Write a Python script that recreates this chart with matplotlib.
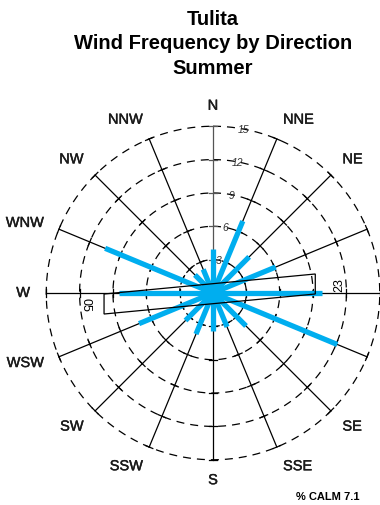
import numpy as np
import matplotlib
matplotlib.use('Agg')
import matplotlib.pyplot as plt
import matplotlib.patheffects as pe
from matplotlib.patches import Polygon

plt.rcParams['font.family'] = ['Liberation Sans', 'DejaVu Sans']

# wind frequency (%) by direction, clockwise from north
directions = ['N', 'NNE', 'NE', 'ENE', 'E', 'ESE', 'SE', 'SSE',
              'S', 'SSW', 'SW', 'WSW', 'W', 'WNW', 'NW', 'NNW']
frequency = [4.0, 7.0, 4.6, 6.1, 9.8, 12.1, 4.2, 3.3,
             3.4, 4.0, 3.5, 7.2, 8.5, 10.5, 2.3, 2.3]
ring_values = [3, 6, 9, 12, 15]
calm_pct = 7.1
station = 'Tulita'
season = 'Summer'

# runway 05/23 (chart units, x east / y north)
runway_labels = ['05', '23']
runway_x = [-9.8, 9.2]
runway_y = [-0.99, 0.81]
runway_half_width = 0.9

bar_color = '#00AEEF'
rmax = 17

fig = plt.figure(figsize=(3.8, 5.06), dpi=100)
rect = [24 / 380, 23 / 506, 378 / 380, 378 / 506]
ax = fig.add_axes(rect, projection='polar')
ax.set_theta_zero_location('N')
ax.set_theta_direction(-1)
ax.set_ylim(0, rmax)
ax.set_axis_off()
px_per_unit = 189 / rmax

theta = np.deg2rad(np.arange(len(directions)) * 22.5)

# dashed rings
th = np.linspace(0, 2 * np.pi, 500)
for r in ring_values:
    ax.plot(th, np.full_like(th, r), color='k', lw=0.9, ls=(0, (6.4, 4.8)), zorder=1)

# spokes with ticks at each ring
for i, t in enumerate(theta):
    c = '#555555' if i == 0 else 'k'
    ax.plot([t, t], [0, ring_values[-1]], color=c, lw=0.9, zorder=1)
    for r in ring_values:
        dt = 0.35 / r
        ax.plot([t - dt, t + dt], [r, r], color=c, lw=0.9, zorder=1)

# frequency bars
for t, f in zip(theta, frequency):
    ax.plot([t, t], [0, f], color=bar_color, lw=3.8, solid_capstyle='butt', zorder=3)

# ring labels
for r in ring_values:
    ax.text(np.deg2rad(10.5), r, str(r), fontsize=7.5, style='italic',
            color='#333333', ha='center', va='center', zorder=4)

# overlay in plain x/y units for runway and direction labels
ax2 = fig.add_axes(rect)
ax2.set_xlim(-rmax, rmax)
ax2.set_ylim(-rmax, rmax)
ax2.axis('off')
ax2.patch.set_alpha(0)

renderer = fig.canvas.get_renderer()
anchor_px = 183
for t, d in zip(theta, directions):
    txt = ax2.text(0, 0, d, fontsize=10.5, color='#1a1a1a', ha='center', va='center',
                   path_effects=[pe.withStroke(linewidth=0.3, foreground='#1a1a1a')])
    bb = txt.get_window_extent(renderer)
    s, c = np.sin(t), np.cos(t)
    x_px = anchor_px * s + (np.sign(s) * bb.width / 2 if abs(s) > 0.1 else 0)
    y_px = anchor_px * c + (np.sign(c) * bb.height / 2 * 0.6 if abs(c) > 0.5 else 0)
    txt.set_position((x_px / px_per_unit, y_px / px_per_unit))

corners = [(runway_x[0], runway_y[0] + runway_half_width),
           (runway_x[1], runway_y[1] + runway_half_width),
           (runway_x[1], runway_y[1] - runway_half_width),
           (runway_x[0], runway_y[0] - runway_half_width)]
ax2.add_patch(Polygon(corners, closed=True, fill=False, ec='k', lw=0.9, zorder=5))
ax2.text(runway_x[0] - 1.7, runway_y[0], runway_labels[0], rotation=-90,
         fontsize=9, ha='center', va='center')
ax2.text(runway_x[1] + 2.2, runway_y[1], runway_labels[1], rotation=90,
         fontsize=9, ha='center', va='center')

fig.text(213 / 380, 1 - 10 / 506, station + '\nWind Frequency by Direction\n' + season,
         ha='center', va='top', fontsize=14.5, fontweight='bold', linespacing=1.35)
fig.text(328 / 380, 1 - 497 / 506, '% CALM ' + str(calm_pct), ha='center', va='center',
         fontsize=8, fontweight='bold')

fig.savefig('out.png', dpi=100)
